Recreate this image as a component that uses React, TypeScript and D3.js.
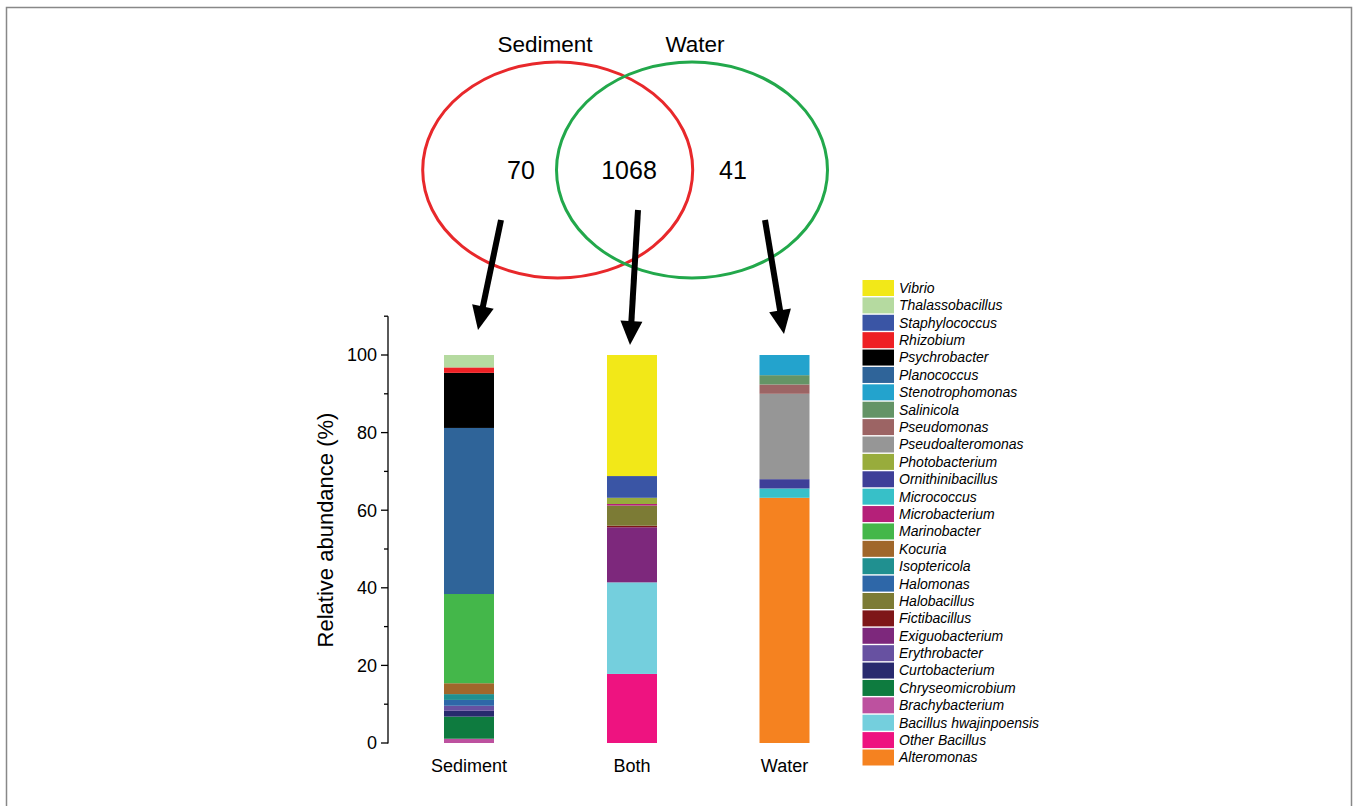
import React from "react";
import * as d3 from "d3";

const genera = [
  "Vibrio", "Thalassobacillus", "Staphylococcus", "Rhizobium", "Psychrobacter",
  "Planococcus", "Stenotrophomonas", "Salinicola", "Pseudomonas", "Pseudoalteromonas",
  "Photobacterium", "Ornithinibacillus", "Micrococcus", "Microbacterium", "Marinobacter",
  "Kocuria", "Isoptericola", "Halomonas", "Halobacillus", "Fictibacillus",
  "Exiguobacterium", "Erythrobacter", "Curtobacterium", "Chryseomicrobium", "Brachybacterium",
  "Bacillus hwajinpoensis", "Other Bacillus", "Alteromonas",
];

const colors = [
  "#F2E818", "#B5DAA0", "#3A55A5", "#EE2024", "#000000",
  "#2F6499", "#23A3CD", "#649466", "#9C6464", "#969696",
  "#98AC3C", "#3E3F98", "#37C0C8", "#B52079", "#44B74A",
  "#A0672B", "#209090", "#2E67A8", "#7C7B35", "#7E1618",
  "#7D287C", "#6751A1", "#282A6E", "#0E7B3F", "#BD519F",
  "#74CFDD", "#EE1380", "#F58220",
];

const categories = ["Sediment", "Both", "Water"];

// values aligned with genera (percent)
const sedimentValues = [
  0, 3.2, 0, 1.4, 14.2,
  42.8, 0, 0, 0, 0,
  0, 0, 0, 0, 23.0,
  2.8, 1.5, 1.5, 0, 0,
  0, 1.3, 1.5, 5.7, 1.1,
  0, 0, 0,
];
const bothValues = [
  31.2, 0, 5.6, 0, 0,
  0, 0, 0, 0, 0,
  1.6, 0, 0, 0.4, 0,
  0, 0, 0, 5.2, 0.4,
  14.2, 0, 0, 0, 0,
  23.6, 17.8, 0,
];
const waterValues = [
  0, 0, 0, 0, 0,
  0, 5.2, 2.4, 2.4, 22.0,
  0, 2.4, 2.4, 0, 0,
  0, 0, 0, 0, 0,
  0, 0, 0, 0, 0,
  0, 0, 63.2,
];

const yTicks = [0, 20, 40, 60, 80, 100];
const yMinorTicks = [10, 30, 50, 70, 90, 110];

const vennSets = ["Sediment", "Water"];
const vennCounts = ["70", "1068", "41"];

const FONT = "'Liberation Sans', Arial, Helvetica, sans-serif";

function Arrow({ x1, y1, x2, y2 }: { x1: number; y1: number; x2: number; y2: number }) {
  const dx = x2 - x1, dy = y2 - y1;
  const len = Math.hypot(dx, dy);
  const ux = dx / len, uy = dy / len;
  const hl = 24, hw = 11;
  const bx = x2 - ux * hl, by = y2 - uy * hl;
  const px = -uy, py = ux;
  const pts = [
    [x2, y2],
    [bx + px * hw, by + py * hw],
    [bx - px * hw, by - py * hw],
  ];
  return (
    <g>
      <line x1={x1} y1={y1} x2={bx + ux * 2} y2={by + uy * 2} stroke="#000" strokeWidth={6} />
      <polygon points={pts.map((p) => p.join(",")).join(" ")} fill="#000" />
    </g>
  );
}

export default function App() {
  const W = 1354, H = 806;
  const y = d3.scaleLinear().domain([0, 110]).range([743, 316.2]);
  const x = d3.scaleOrdinal<string, number>().domain(categories).range([469, 632, 784.5]);
  const barW = 50;

  const table = categories.map((c, ci) => {
    const vals = [sedimentValues, bothValues, waterValues][ci];
    const row: any = { category: c };
    genera.forEach((g, gi) => (row[g] = vals[gi]));
    return row;
  });
  const keys = genera.slice().reverse();
  const stack = d3.stack<any>().keys(keys)(table);
  const color = d3.scaleOrdinal<string, string>().domain(genera).range(colors);

  const axisX = 388;

  const legendY = d3.scalePoint<string>().domain(genera).range([288, 757.5]);

  return (
    <svg width={W} height={H} style={{ position: "absolute", left: 0, top: 0, background: "#fff" }} fontFamily={FONT}>
      <rect x={0} y={0} width={W} height={H} fill="#fff" />
      <path d={`M6.5,${H + 5} V7.5 H1351.5 V${H + 5}`} fill="none" stroke="#888" strokeWidth={1.5} />

      {/* Venn */}
      <ellipse cx={557.7} cy={170} rx={135} ry={108} fill="none" stroke="#E8282B" strokeWidth={3} />
      <ellipse cx={692} cy={170} rx={135.5} ry={108} fill="none" stroke="#22A84B" strokeWidth={3} />
      <text x={545} y={52} fontSize={22.5} textAnchor="middle">{vennSets[0]}</text>
      <text x={695} y={52} fontSize={22.5} textAnchor="middle">{vennSets[1]}</text>
      <text x={521} y={179} fontSize={25} textAnchor="middle">{vennCounts[0]}</text>
      <text x={629} y={179} fontSize={25} textAnchor="middle">{vennCounts[1]}</text>
      <text x={733} y={179} fontSize={25} textAnchor="middle">{vennCounts[2]}</text>

      <Arrow x1={501} y1={220} x2={478} y2={330} />
      <Arrow x1={638} y1={210} x2={630} y2={345} />
      <Arrow x1={765} y1={220} x2={784} y2={334} />

      {/* Bars */}
      {stack.map((layer) => (
        <g key={layer.key} fill={color(layer.key)}>
          {layer.map((d, i) =>
            d[1] - d[0] > 0 ? (
              <rect
                key={i}
                x={x(d.data.category) - barW / 2}
                y={y(d[1])}
                width={barW}
                height={y(d[0]) - y(d[1])}
              />
            ) : null
          )}
        </g>
      ))}

      {/* Y axis */}
      <line x1={axisX} x2={axisX} y1={y(0) + 0.5} y2={y(110)} stroke="#000" strokeWidth={1.3} />
      {yTicks.map((t) => (
        <g key={t}>
          <line x1={axisX - 7} x2={axisX} y1={y(t)} y2={y(t)} stroke="#000" strokeWidth={1.3} />
          <text x={axisX - 11} y={y(t)} dy="0.35em" fontSize={18} textAnchor="end">{t}</text>
        </g>
      ))}
      {yMinorTicks.map((t) => (
        <line key={t} x1={axisX - 4} x2={axisX} y1={y(t)} y2={y(t)} stroke="#000" strokeWidth={1.3} />
      ))}
      <text transform={`translate(333,530) rotate(-90)`} fontSize={22} textAnchor="middle">
        Relative abundance (%)
      </text>

      {categories.map((c) => (
        <text key={c} x={x(c)} y={772} fontSize={18} textAnchor="middle">{c}</text>
      ))}

      {/* Legend */}
      {genera.map((g) => (
        <g key={g} transform={`translate(862.5,${legendY(g)})`}>
          <rect x={0} y={-8} width={31.5} height={16} fill={color(g)} />
          <text x={36.5} y={0} dy="0.35em" fontSize={14} fontStyle="italic">{g}</text>
        </g>
      ))}
    </svg>
  );
}
